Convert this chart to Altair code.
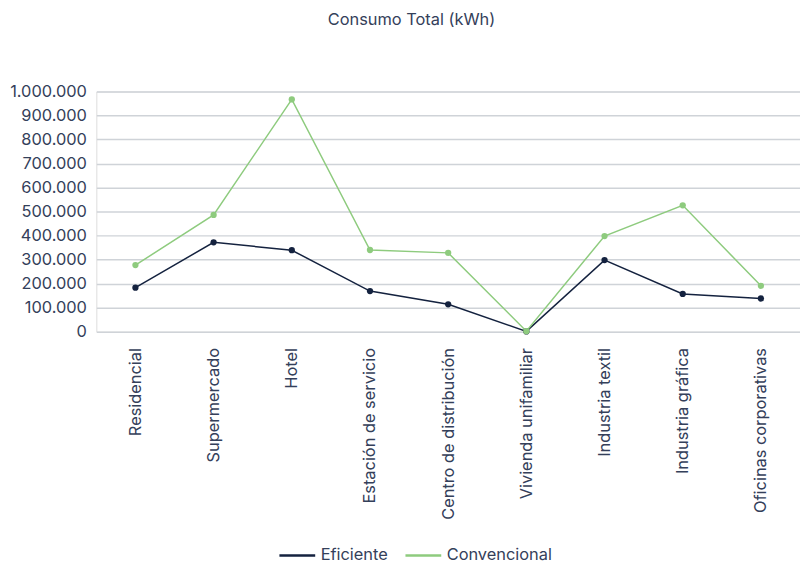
import altair as alt
import pandas as pd

categories = ["Residencial", "Supermercado", "Hotel", "Estación de servicio",
              "Centro de distribución", "Vivienda unifamiliar", "Industria textil",
              "Industria gráfica", "Oficinas corporativas"]
eficiente = [183000, 372000, 339000, 169000, 114000, 1000, 298000, 157000, 138000]
convencional = [277000, 486000, 967000, 340000, 328000, 2000, 398000, 526000, 191000]
series = ["Eficiente", "Convencional"]
colors = ["#14223f", "#8ecb7e"]

rows = []
for i, c in enumerate(categories):
    rows.append({"cat": c, "serie": "Eficiente", "valor": eficiente[i], "ord": i})
    rows.append({"cat": c, "serie": "Convencional", "valor": convencional[i], "ord": i})
df = pd.DataFrame(rows)

FONT = "Inter"
TXT = "#34405a"

chart = alt.Chart(df).mark_line(
    strokeWidth=1.5,
    point=alt.OverlayMarkDef(size=40, filled=True),
).encode(
    x=alt.X("cat:N", sort=categories, title=None,
            axis=alt.Axis(labelAngle=-90, labelAlign="right", labelBaseline="middle",
                          labelPadding=16, ticks=False, domain=False,
                          labelFontSize=16.5, labelColor=TXT, labelFont=FONT,
                          labelLimit=300)),
    y=alt.Y("valor:Q", title=None,
            scale=alt.Scale(domain=[0, 1000000], nice=False),
            axis=alt.Axis(values=[0, 100000, 200000, 300000, 400000, 500000,
                                  600000, 700000, 800000, 900000, 1000000],
                          labelExpr="replace(format(datum.value, ',.0f'), /,/g, '.')",
                          ticks=False, domain=False, labelPadding=10,
                          labelFontSize=16.5, labelColor=TXT, labelFont=FONT,
                          gridColor="#cfd3d8", gridWidth=1.5)),
    color=alt.Color("serie:N", sort=series,
                    scale=alt.Scale(domain=series, range=colors),
                    legend=alt.Legend(title=None, orient="none", direction="horizontal",
                                      legendX=183, legendY=448,
                                      labelFontSize=16.5, labelColor=TXT, labelFont=FONT,
                                      symbolType="stroke", symbolSize=1300,
                                      symbolStrokeWidth=2.5, columnPadding=12,
                                      labelOffset=4)),
    detail="serie:N",
).properties(
    width=709,
    height=242,
    title=alt.Title("Consumo Total (kWh)", fontSize=16.5, font=FONT, color=TXT,
                    fontWeight="normal", offset=55, anchor="middle", dx=-37),
    autosize=alt.AutoSizeParams(type="none"),
    padding={"left": 89, "top": 82, "right": 0, "bottom": 232},
).configure_view(stroke=None).configure(background="white")

chart.save("out.html", embed_options={"renderer": "svg", "actions": False})
